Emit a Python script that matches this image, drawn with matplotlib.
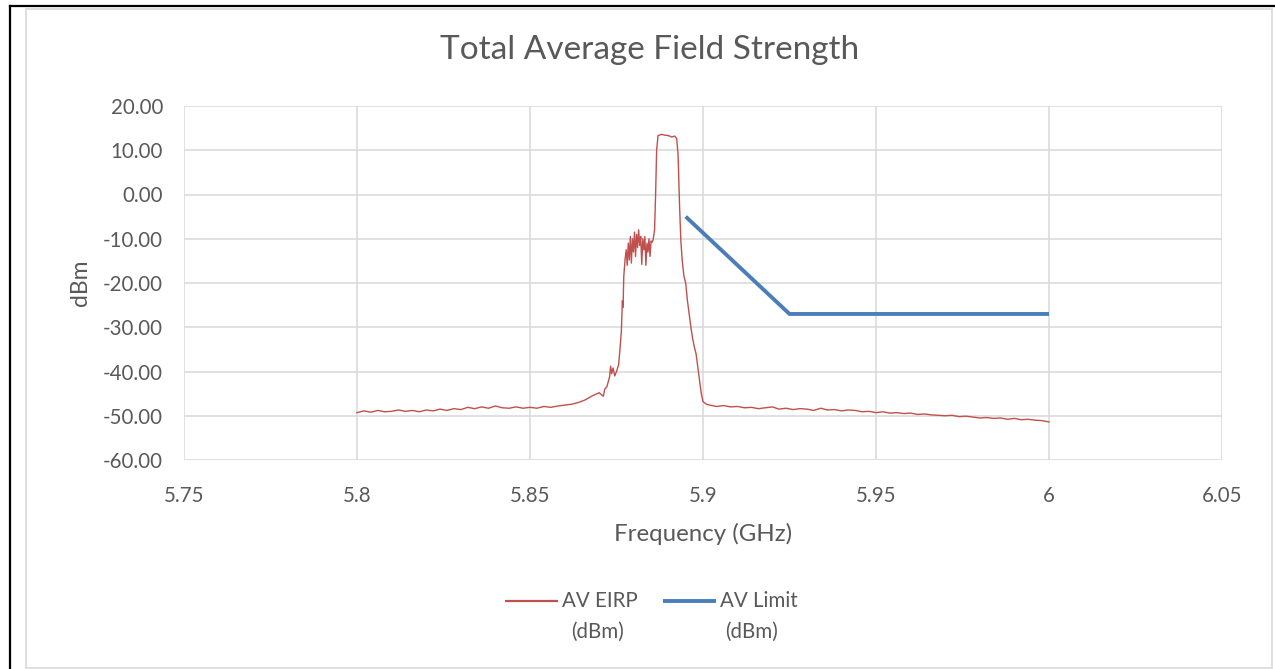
import matplotlib.pyplot as plt
from matplotlib.lines import Line2D
from matplotlib.patches import Rectangle

plt.rcParams["font.family"] = ["Lato", "DejaVu Sans"]

# AV EIRP trace (GHz, dBm)
eirp_freq = [
    5.800, 5.802, 5.804, 5.806, 5.808, 5.810, 5.812, 5.814, 5.816, 5.818,
    5.820, 5.822, 5.824, 5.826, 5.828, 5.830, 5.832, 5.834, 5.836, 5.838,
    5.840, 5.842, 5.844, 5.846, 5.848, 5.850, 5.852, 5.854, 5.856, 5.858,
    5.860, 5.862, 5.864, 5.866,
    5.8680, 5.8700, 5.8712, 5.8716, 5.8722, 5.8730, 5.8733, 5.8736, 5.8740, 5.8745,
    5.8750, 5.8756, 5.8760, 5.8764, 5.8767, 5.8769, 5.8771, 5.8775, 5.8778, 5.8781,
    5.8784, 5.8787, 5.8790, 5.8793, 5.8796, 5.8799, 5.8802, 5.8805, 5.8808, 5.8811,
    5.8814, 5.8817, 5.8820, 5.8823, 5.8826, 5.8829, 5.8832, 5.8835, 5.8838, 5.8841,
    5.8844, 5.8847, 5.8850, 5.8853, 5.8856, 5.8860, 5.8863, 5.8866, 5.8870, 5.8880,
    5.8890, 5.8900, 5.8910, 5.8918, 5.8924, 5.8928, 5.8932, 5.8936, 5.8940, 5.8945,
    5.8950, 5.8955, 5.8960, 5.8965, 5.8970, 5.8975, 5.8980, 5.8985, 5.8990, 5.8995,
    5.9000, 5.9010,
    5.902, 5.904, 5.906, 5.908, 5.910, 5.912, 5.914, 5.916, 5.918, 5.920,
    5.922, 5.924, 5.926, 5.928, 5.930, 5.932, 5.934, 5.936, 5.938, 5.940,
    5.942, 5.944, 5.946, 5.948, 5.950, 5.952, 5.954, 5.956, 5.958, 5.960,
    5.962, 5.964, 5.966, 5.968, 5.970, 5.972, 5.974, 5.976, 5.978, 5.980,
    5.982, 5.984, 5.986, 5.988, 5.990, 5.992, 5.994, 5.996, 5.998, 6.000,
]
eirp_dbm = [
    -49.3, -48.9, -49.2, -48.8, -49.1, -49.0, -48.7, -49.0, -48.8, -49.1,
    -48.7, -48.9, -48.5, -48.8, -48.4, -48.6, -48.1, -48.4, -48.0, -48.3,
    -47.8, -48.2, -48.3, -48.0, -48.3, -48.1, -48.3, -47.9, -48.1, -47.8,
    -47.6, -47.4, -47.0, -46.4,
    -45.5, -44.8, -45.6, -44.0, -43.5, -41.2, -38.8, -40.5, -39.2, -41.0,
    -40.0, -38.5, -35.0, -31.0, -24.0, -25.5, -18.5, -14.5, -12.5, -16.0,
    -11.0, -14.8, -9.5, -15.5, -10.0, -13.0, -8.5, -14.0, -9.0, -12.0,
    -8.0, -11.5, -9.5, -15.8, -10.0, -12.5, -9.5, -16.0, -11.0, -13.0,
    -10.0, -14.0, -10.5, -10.8, -10.2, -8.0, 0.0, 10.0, 13.3, 13.6,
    13.4, 13.3, 13.0, 13.2, 12.6, 9.0, -2.0, -10.5, -15.0, -18.5,
    -20.0, -24.0, -27.0, -30.0, -32.5, -34.5, -36.0, -39.0, -42.0, -45.0,
    -46.8, -47.4,
    -47.6, -47.9, -47.7, -48.0, -47.9, -48.2, -48.1, -48.4, -48.2, -48.0,
    -48.5, -48.3, -48.6, -48.4, -48.5, -48.8, -48.3, -48.7, -48.6, -48.9,
    -48.7, -48.8, -49.1, -49.0, -49.3, -49.1, -49.4, -49.3, -49.5, -49.4,
    -49.7, -49.6, -49.8, -49.9, -50.0, -49.9, -50.2, -50.1, -50.3, -50.5,
    -50.4, -50.6, -50.5, -50.8, -50.6, -50.9, -50.8, -51.0, -51.1, -51.4,
]

# AV Limit
limit_freq = [5.895, 5.925, 6.0]
limit_dbm = [-5.0, -27.0, -27.0]

x_ticks = [5.75, 5.8, 5.85, 5.9, 5.95, 6.0, 6.05]
x_labels = ["5.75", "5.8", "5.85", "5.9", "5.95", "6", "6.05"]
y_ticks = [-60, -50, -40, -30, -20, -10, 0, 10, 20]

txt = "#595959"
grid = "#D9D9D9"
red = "#C0504D"
blue = "#4A7EBB"

fig = plt.figure(figsize=(12.75, 6.69), dpi=100)
ax = fig.add_axes([184 / 1275, 1 - 460 / 669, (1222 - 184) / 1275, (460 - 106) / 669])

ax.plot(eirp_freq, eirp_dbm, color=red, lw=1.0)
ax.plot(limit_freq, limit_dbm, color=blue, lw=2.8, solid_capstyle="butt")

ax.set_xlim(5.75, 6.05)
ax.set_ylim(-60, 20)
ax.set_xticks(x_ticks)
ax.set_xticklabels(x_labels)
ax.set_yticks(y_ticks)
ax.set_yticklabels(["%.2f" % v for v in y_ticks])
ax.grid(True, color=grid, lw=1.1)
ax.set_axisbelow(True)
for s in ax.spines.values():
    s.set_visible(False)
ax.tick_params(length=0, labelsize=14.8, labelcolor=txt)
ax.tick_params(axis="x", pad=19)
ax.tick_params(axis="y", pad=15)

ax.set_xlabel("Frequency (GHz)", fontsize=17.3, color=txt, labelpad=12)
ax.set_ylabel("dBm", fontsize=16.5, color=txt, labelpad=9)
fig.text(650 / 1275, 1 - 50 / 669, "Total Average Field Strength", fontsize=24,
         color=txt, ha="center", va="center")

# legend, drawn by hand (Excel style: handle at first line, label wrapped)
def leg_entry(x0, x1, y, color, lw, name, unit, unit_x):
    fig.lines.append(Line2D([x0 / 1275, x1 / 1275], [1 - y / 669, 1 - y / 669],
                            transform=fig.transFigure, color=color, lw=lw, solid_capstyle="butt"))
    fig.text((x1 + 4) / 1275, 1 - y / 669, name, fontsize=14.8, color=txt, ha="left", va="center")
    fig.text(unit_x / 1275, 1 - (y + 31) / 669, unit, fontsize=14.8, color=txt,
             ha="center", va="center")

leg_entry(505, 558, 601, red, 1.6, "AV EIRP", "(dBm)", 597)
leg_entry(663, 716, 601, blue, 2.8, "AV Limit", "(dBm)", 752)

# chart area border and outer document lines
fig.patches.append(Rectangle((26 / 1275, 1 / 669), 1246 / 1275, 659 / 669, transform=fig.transFigure,
                             fill=False, ec=grid, lw=1.2))
fig.lines.append(Line2D([10 / 1275, 10 / 1275], [0, 1 - 6 / 669], transform=fig.transFigure,
                        color="black", lw=1.6))
fig.lines.append(Line2D([10 / 1275, 1], [1 - 6 / 669, 1 - 6 / 669], transform=fig.transFigure,
                        color="black", lw=1.6))

fig.savefig("out.png", dpi=100)
